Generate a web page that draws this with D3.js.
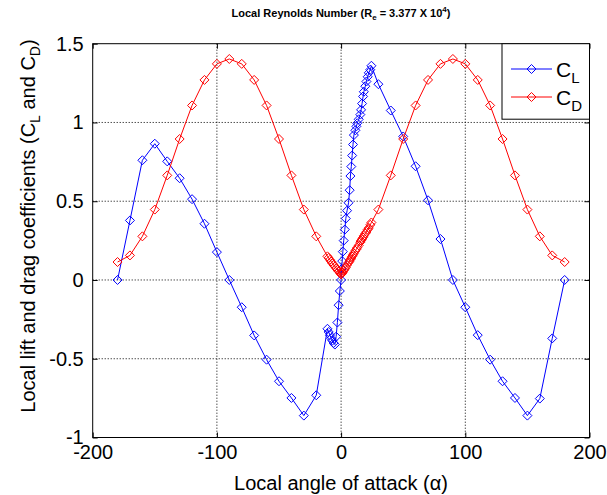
<!DOCTYPE html>
<html><head><meta charset="utf-8">
<script src="https://cdn.jsdelivr.net/npm/d3@7"></script>
<style>body{margin:0;background:#fff}svg{display:block}text{font-family:"Liberation Sans",Arial,sans-serif}</style>
</head><body><svg id="c" width="607" height="495"></svg>
<script>
const clAngle = [-180,-170,-160,-150,-140,-130,-120,-110,-100,-90,-80,-70,-60,-50,-40,-30,-20,-11,-10,-9,-8,-7,-6,-5,-4,-3,-2,-1,0,0.4,0.9,1.4,2.1,3.0,3.8,4.8,6.0,6.9,7.5,8.2,8.9,9.6,10.3,11.5,12.3,13.0,14.2,15.5,16.1,16.9,17.7,18.3,19.5,20.4,21.4,22.3,23.5,24.4,30,40,50,60,70,80,90,100,110,120,130,140,150,160,170,180];
const clValues = [0,0.378,0.76,0.865,0.753,0.646,0.513,0.357,0.177,0,-0.173,-0.352,-0.506,-0.643,-0.749,-0.861,-0.732,-0.31,-0.33,-0.35,-0.37,-0.385,-0.40,-0.41,-0.36,-0.27,-0.16,-0.07,0,0.07,0.12,0.18,0.25,0.32,0.39,0.44,0.49,0.57,0.66,0.72,0.79,0.86,0.92,0.95,0.975,0.995,1.02,1.05,1.08,1.12,1.165,1.195,1.23,1.26,1.29,1.315,1.335,1.36,1.243,1.076,0.911,0.722,0.506,0.26,0,-0.173,-0.35,-0.506,-0.643,-0.749,-0.861,-0.753,-0.371,0];
const cdAngle = [-180,-170,-160,-150,-140,-130,-120,-110,-100,-90,-80,-70,-60,-50,-40,-30,-20,-11,-10,-9,-8,-7,-6,-5,-4,-3,-2,-1,0,0.4,0.9,1.4,2.1,3.0,3.8,4.8,6.0,6.9,7.5,8.2,8.9,9.6,10.3,11.5,12.3,13.0,14.2,15.5,16.1,16.9,17.7,18.3,19.5,20.4,21.4,22.3,23.5,24.4,30,40,50,60,70,80,90,100,110,120,130,140,150,160,170,180];
const cdValues = [0.114,0.156,0.277,0.447,0.664,0.895,1.108,1.27,1.372,1.403,1.372,1.27,1.108,0.895,0.664,0.447,0.277,0.15,0.14,0.128,0.117,0.105,0.095,0.085,0.075,0.065,0.055,0.045,0.035,0.04,0.045,0.05,0.06,0.07,0.08,0.095,0.11,0.12,0.13,0.14,0.15,0.16,0.17,0.185,0.195,0.205,0.22,0.24,0.25,0.26,0.27,0.28,0.295,0.305,0.32,0.33,0.35,0.365,0.447,0.664,0.895,1.108,1.27,1.372,1.403,1.372,1.27,1.108,0.895,0.664,0.447,0.277,0.156,0.114];
const xTicks = [-200,-100,0,100,200];
const yTicks = [-1,-0.5,0,0.5,1,1.5];

const svg = d3.select("#c");
const L=92.7,R=589.5,T=43.7,B=437.5;
const x = d3.scaleLinear().domain([-200,200]).range([L,R]);
const y = d3.scaleLinear().domain([-1,1.5]).range([B,T]);

// grid
const g = svg.append("g");
g.selectAll(".gx").data(xTicks.slice(1,-1)).join("line")
 .attr("x1",d=>x(d)).attr("x2",d=>x(d)).attr("y1",T).attr("y2",B)
 .attr("stroke","#000").attr("stroke-width",1).attr("stroke-dasharray","1,2");
g.selectAll(".gy").data(yTicks.slice(1,-1)).join("line")
 .attr("y1",d=>y(d)).attr("y2",d=>y(d)).attr("x1",L).attr("x2",R)
 .attr("stroke","#000").attr("stroke-width",1).attr("stroke-dasharray","1,2");

// axes
const fmt = d=>String(d);
const ax = d3.axisBottom(x).tickValues(xTicks).tickSizeInner(-5).tickSizeOuter(0).tickPadding(7).tickFormat(fmt);
const axT = d3.axisTop(x).tickValues(xTicks).tickSizeInner(-5).tickSizeOuter(0).tickFormat("");
const ay = d3.axisLeft(y).tickValues(yTicks).tickSizeInner(-5).tickSizeOuter(0).tickPadding(9).tickFormat(fmt);
const ayR = d3.axisRight(y).tickValues(yTicks).tickSizeInner(-5).tickSizeOuter(0).tickFormat("");
function style(sel){sel.select(".domain").remove();sel.selectAll("line").attr("stroke","#000");sel.selectAll("text").attr("font-size",20).attr("fill","#000").attr("font-family","Liberation Sans, Arial, sans-serif");}
svg.append("g").attr("transform",`translate(0,${B})`).call(ax).call(style);
svg.append("g").attr("transform",`translate(0,${T})`).call(axT).call(style);
svg.append("g").attr("transform",`translate(${L},0)`).call(ay).call(style);
svg.append("g").attr("transform",`translate(${R},0)`).call(ayR).call(style);
svg.append("rect").attr("x",L).attr("y",T).attr("width",R-L).attr("height",B-T).attr("fill","none").attr("stroke","#000").attr("stroke-width",1);

const diamond = (cx,cy,r)=>`M${cx},${cy-r}L${cx+r},${cy}L${cx},${cy+r}L${cx-r},${cy}Z`;
function series(xs,ys,color){
  const pts = xs.map((a,i)=>[a,ys[i]]);
  const line = d3.line().x(d=>x(d[0])).y(d=>y(d[1]));
  svg.append("path").attr("d",line(pts)).attr("fill","none").attr("stroke",color).attr("stroke-width",1);
  svg.append("g").selectAll("path").data(pts).join("path")
    .attr("d",d=>diamond(x(d[0]),y(d[1]),4.5)).attr("fill","none").attr("stroke",color).attr("stroke-width",1);
}
series(clAngle,clValues,"#0000ff");
series(cdAngle,cdValues,"#ff0000");

// legend
const lg = svg.append("g");
lg.append("rect").attr("x",502).attr("y",T).attr("width",R-502).attr("height",75.5).attr("fill","#fff").attr("stroke","#000").attr("stroke-width",1);
[["L","#0000ff",69],["D","#ff0000",97]].forEach(([s,c,yy])=>{
  lg.append("line").attr("x1",511).attr("x2",552).attr("y1",yy).attr("y2",yy).attr("stroke",c);
  lg.append("path").attr("d",diamond(531.5,yy,4.5)).attr("fill","none").attr("stroke",c);
  const t = lg.append("text").attr("x",556).attr("y",yy+8).attr("font-size",21).attr("fill","#000");
  t.append("tspan").text("C");
  t.append("tspan").attr("dy",6).attr("font-size",15).text(s);
});

// title
const tt = svg.append("text").attr("x",341).attr("y",17).attr("text-anchor","middle").attr("font-size",11).attr("font-weight","bold").attr("fill","#000");
tt.append("tspan").text("Local Reynolds Number (R");
tt.append("tspan").attr("dy",3).attr("font-size",8).text("e");
tt.append("tspan").attr("dy",-3).text(" = 3.377 X 10");
tt.append("tspan").attr("dy",-5).attr("font-size",8).text("4");
tt.append("tspan").attr("dy",5).text(")");

// x label
svg.append("text").attr("x",341).attr("y",490).attr("text-anchor","middle").attr("font-size",20).attr("fill","#000")
  .text("Local angle of attack (α)");
// y label
const yl = svg.append("text").attr("transform","translate(35,226) rotate(-90)").attr("text-anchor","middle").attr("font-size",20).attr("fill","#000");
yl.append("tspan").text("Local lift and drag coefficients (C");
yl.append("tspan").attr("dy",5).attr("font-size",14).text("L");
yl.append("tspan").attr("dy",-5).text(" and C");
yl.append("tspan").attr("dy",5).attr("font-size",14).text("D");
yl.append("tspan").attr("dy",-5).text(")");
</script></body></html>
